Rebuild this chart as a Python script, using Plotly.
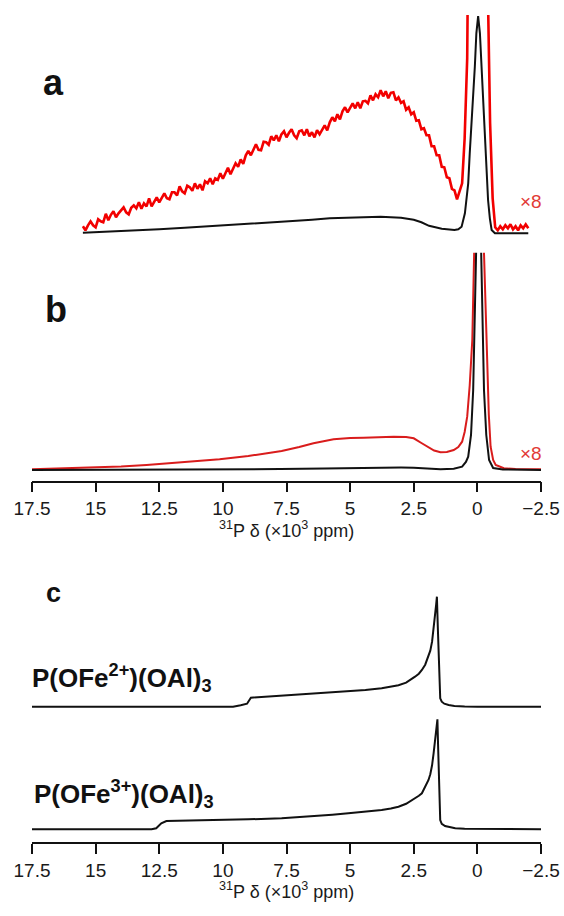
import plotly.graph_objects as go

# ---------------- data (intensities in a.u., shift in 10^3 ppm) ----------------
# Panel a: black spectrum
a_black_x = [15.5, 14.5, 13.5, 12.5, 11.5, 10.5, 9.5, 8.5, 7.7, 6.5, 5.8, 4.5, 3.8, 3.0, 2.5, 2.2,
             1.9, 1.4, 0.9, 0.75, 0.62, 0.49, 0.36, 0.3, 0.23, 0.17, 0.1, 0.04, -0.03, -0.1, -0.17,
             -0.23, -0.29, -0.36, -0.42, -0.49, -0.56, -0.69, -1.2, -2.0]
a_black_y = [0.6, 1.5, 2.5, 4, 5.5, 7, 9, 10.5, 11.6, 13.5, 15, 16.3, 16.6, 15.5, 13.5, 11,
             7.5, 4.5, 3.3, 4, 6.6, 20, 50, 80, 106.6, 140, 166.6, 200, 217.3, 200, 166.6,
             135, 100, 65, 33.3, 15, 3.3, 0, 0, 0]

# Panel a: red spectrum (x8, noisy)
a_red_x = [15.5, 15.4, 15.3, 15.2, 15.1, 15.0, 14.9, 14.8, 14.7, 14.6, 14.5, 14.4, 14.3, 14.2, 14.1,
           14.0, 13.9, 13.8, 13.7, 13.6, 13.5, 13.4, 13.3, 13.2, 13.1, 13.0, 12.9, 12.8, 12.7, 12.6,
           12.5, 12.4, 12.3, 12.2, 12.1, 12.0, 11.9, 11.8, 11.7, 11.6, 11.5, 11.4, 11.3, 11.2, 11.1,
           11.0, 10.9, 10.8, 10.7, 10.6, 10.5, 10.4, 10.3, 10.2, 10.1, 10.0, 9.9, 9.8, 9.7, 9.6,
           9.5, 9.4, 9.3, 9.2, 9.1, 9.0, 8.9, 8.8, 8.7, 8.6, 8.5, 8.4, 8.3, 8.2, 8.1,
           8.0, 7.9, 7.8, 7.7, 7.6, 7.5, 7.4, 7.3, 7.2, 7.1, 7.0, 6.9, 6.8, 6.7, 6.6,
           6.5, 6.4, 6.3, 6.2, 6.1, 6.0, 5.9, 5.8, 5.7, 5.6, 5.5, 5.4, 5.3, 5.2, 5.1,
           5.0, 4.9, 4.8, 4.7, 4.6, 4.5, 4.4, 4.3, 4.2, 4.1, 4.0, 3.9, 3.8, 3.7, 3.6,
           3.5, 3.4, 3.3, 3.2, 3.1, 3.0, 2.9, 2.8, 2.7, 2.6, 2.5, 2.4, 2.3, 2.2, 2.1,
           2.0, 1.9, 1.8, 1.7, 1.6, 1.5, 1.4, 1.3, 1.2, 1.1, 1.0, 0.9, 0.8, 0.7, 0.6,
           0.5, 0.4, 0.3, 0.2, 0.1, 0.0, -0.03, -0.1, -0.2, -0.3, -0.4, -0.5, -0.6, -0.7, -0.8,
           -0.9, -1.0, -1.1, -1.2, -1.3, -1.4, -1.5, -1.6, -1.7, -1.8, -1.9, -2.0]
a_red_y = [7, 3, 8, 12, 8, 6, 14, 12, 11, 19.5, 13, 18.5, 22, 16, 20,
           23.5, 26, 21, 19, 25.5, 28, 25, 31, 24.5, 30, 27, 35, 27, 32, 36,
           31, 36, 40, 35, 34, 41, 41, 38, 47, 42, 40, 47.5, 46, 42.5, 50,
           44.5, 49, 43, 52, 50, 55, 49, 55, 53.5, 60, 54.5, 61, 65.5, 59, 65,
           70, 66.5, 74, 69.5, 78, 82.5, 78, 83.5, 89, 83.5, 83, 91.5, 91, 88.5, 97,
           93, 98, 92, 99, 102, 96, 100.5, 104, 98, 95, 102, 103, 98, 104, 97,
           101, 96, 103, 99, 103, 108, 103, 111, 116, 112, 119, 114, 122, 126, 121,
           126, 130, 125, 131, 125, 132, 132.5, 130, 138, 133, 139, 136, 143, 137, 142,
           135, 140.5, 141, 133, 136, 130.5, 132, 123.5, 126, 119, 121, 112.5, 113, 104, 105,
           98, 98, 87, 87, 78, 78, 66.5, 66, 56, 55, 44.5, 43, 34, 42, 50,
           95, 175, 480, 950, 1330, 1700, 1736, 1600, 1200, 760, 260, 110, 35, 6, 3,
           7, 4, 8, 5, 9, 4, 7, 3, 8, 5, 9, 5]

# Panel b: black spectrum
b_black_x = [17.5, 15.0, 12.5, 10.0, 7.75, 6.0, 4.47, 3.0, 2.5, 1.97, 1.45, 0.93, 0.75, 0.6, 0.45,
             0.36, 0.25, 0.165, 0.05, -0.05, -0.15, -0.26, -0.35, -0.46, -0.62, -1.0, -2.5]
b_black_y = [0, 0.1, 0.3, 0.6, 0.9, 1.6, 2.3, 2.4, 2.3, 1.5, 0.8, 1.3, 2, 3.3, 8,
             13.3, 35, 80, 217, 450, 217, 80, 35, 10, 2, 0.5, 0]

# Panel b: red spectrum (x8)
b_red_x = [17.5, 16.5, 15.5, 14.84, 14.0, 13.0, 12.49, 11.5, 10.13, 9.0, 8.0, 7.69, 7.0, 6.44, 5.65,
           5.0, 4.47, 3.8, 3.29, 2.8, 2.5, 2.2, 1.97, 1.7, 1.45, 1.2, 0.93, 0.75, 0.6, 0.5,
           0.4, 0.3, 0.2, 0.11, 0.0, -0.07, -0.15, -0.26, -0.39, -0.45, -0.52, -0.62, -0.72, -1.04, -1.5,
           -2.5]
b_red_y = [0.7, 1.5, 2.2, 2.7, 3.5, 5, 6, 7.5, 10.7, 14, 17.5, 19, 23, 26.7, 30.7,
           32, 32.3, 33, 33.3, 33, 31.7, 27, 23.3, 19.5, 17.7, 18, 20, 23, 28.3, 38,
           53.3, 85, 130, 217, 400, 450, 400, 217, 97, 55, 23.3, 10, 5, 1.7, 1,
           0.7]

# Panel c: simulated line shapes
c1_x = [17.5, 9.6, 9.3, 9.05, 8.9, 8.3, 7.69, 7.0, 6.38, 5.7, 5.07, 4.4, 3.76, 3.4, 3.1, 2.8, 2.6,
        2.45, 2.3, 2.18, 2.05, 1.92, 1.85, 1.78, 1.72, 1.68, 1.65, 1.62, 1.59, 1.555, 1.52, 1.49,
        1.46, 1.4, 1.3, 1.13, 0.9, 0.5, 0.0, -2.5]
c1_y = [0, 0, 1.5, 3, 9, 10, 10.7, 11.6, 12.7, 13.8, 15, 16.6, 18.4, 19.8, 21.5, 24, 27,
        30, 33, 36.7, 42, 50, 56, 65, 76.7, 85, 95, 102, 110, 80, 55, 25,
        8.4, 5, 3, 1.7, 0.8, 0.3, 0, 0]
c2_x = [17.5, 12.8, 12.62, 12.42, 12.22, 11.0, 10.0, 9.0, 7.69, 7.0, 6.38, 5.7, 5.07, 4.4, 3.76, 3.4,
        3.1, 2.8, 2.6, 2.45, 2.3, 2.18, 2.05, 1.92, 1.85, 1.78, 1.72, 1.68, 1.65, 1.61, 1.57, 1.545,
        1.52, 1.49, 1.46, 1.4, 1.27, 0.87, 0.5, -2.5]
c2_y = [0, 0, 1, 6, 8.3, 8.8, 9.4, 10, 11, 12.1, 13.3, 14.6, 16, 17.5, 19.3, 20.8,
        22.5, 25.5, 28.5, 31, 33.5, 36, 42, 49.3, 55, 64, 76, 85, 95, 103, 110, 85,
        60, 28, 9.3, 5.5, 3.3, 1, 0.5, 0]

tick_vals = [17.5, 15, 12.5, 10, 7.5, 5, 2.5, 0, -2.5]
tick_text = ["17.5", "15", "12.5", "10", "7.5", "5", "2.5", "0", "\u22122.5"]
c_labels = ["P(OFe<sup>2+</sup>)(OAl)<sub>3</sub>", "P(OFe<sup>3+</sup>)(OAl)<sub>3</sub>"]
panel_labels = ["a", "b", "c"]
x_title = "<sup>31</sup>P \u03b4 (\u00d710<sup>3</sup> ppm)"

# ---------------- figure ----------------
W, H = 564, 916
L, R = 32, 23
FONT = "Arial, 'Liberation Sans', Helvetica, sans-serif"
RED_A = "#f20000"
RED_B = "#d91c1c"
BLACK = "#111111"


def py(p):
    return 1 - p / H


def px(p):
    return (p - L) / (W - L - R)


fig = go.Figure()
fig.add_trace(go.Scatter(x=a_red_x, y=a_red_y, mode="lines", line=dict(color=RED_A, width=2.6),
                         xaxis="x", yaxis="y"))
fig.add_trace(go.Scatter(x=a_black_x, y=a_black_y, mode="lines", line=dict(color=BLACK, width=2),
                         xaxis="x", yaxis="y"))
fig.add_trace(go.Scatter(x=b_red_x, y=b_red_y, mode="lines", line=dict(color=RED_B, width=2),
                         xaxis="x", yaxis="y2"))
fig.add_trace(go.Scatter(x=b_black_x, y=b_black_y, mode="lines", line=dict(color=BLACK, width=2),
                         xaxis="x", yaxis="y2"))
fig.add_trace(go.Scatter(x=c1_x, y=c1_y, mode="lines", line=dict(color=BLACK, width=2),
                         xaxis="x2", yaxis="y3"))
fig.add_trace(go.Scatter(x=c2_x, y=c2_y, mode="lines", line=dict(color=BLACK, width=2),
                         xaxis="x2", yaxis="y4"))

xcommon = dict(range=[17.5, -2.5], tickvals=tick_vals, ticktext=tick_text, showgrid=False,
               zeroline=False, showline=True, linecolor=BLACK, linewidth=1.6, ticks="outside",
               ticklen=10, tickwidth=1.6, tickcolor=BLACK, anchor="free",
               tickfont=dict(family=FONT, size=19, color="#1a1a1a"), automargin=False)
ycommon = dict(visible=False, showgrid=False, zeroline=False, fixedrange=True)

fig.update_layout(
    width=W, height=H,
    margin=dict(l=L, r=R, t=0, b=0, autoexpand=False),
    paper_bgcolor="white", plot_bgcolor="white",
    showlegend=False,
    xaxis=dict(**xcommon, position=py(481.5)),
    xaxis2=dict(**xcommon, position=py(843)),
    yaxis=dict(**ycommon, domain=[py(245), py(15)], range=[233.3 - 245, 233.3 - 15], anchor="x"),
    yaxis2=dict(**ycommon, domain=[py(478), py(252.7)], range=[470 - 478, 470 - 252.7], anchor="x"),
    yaxis3=dict(**ycommon, domain=[py(711.7), py(591.7)], range=[-5, 115], anchor="x2"),
    yaxis4=dict(**ycommon, domain=[py(834.3), py(714.3)], range=[-5, 115], anchor="x2"),
)

ann = []
for txt, (xx, yy), size in zip(panel_labels, [(53.5, 82), (55.7, 310), (53, 592.6)], [36, 36, 27]):
    ann.append(dict(text="<b>%s</b>" % txt, x=px(xx), y=py(yy), xref="paper", yref="paper",
                    showarrow=False, xanchor="center", yanchor="middle",
                    font=dict(family=FONT, size=size, color=BLACK)))
for yy in [201.5, 453.3]:
    ann.append(dict(text="\u00d78", x=px(531), y=py(yy), xref="paper", yref="paper",
                    showarrow=False, xanchor="center", yanchor="middle",
                    font=dict(family=FONT, size=19, color="#e23a36")))
for txt, (xx, yy) in zip(c_labels, [(30, 677.5), (32, 793.5)]):
    ann.append(dict(text="<b>%s</b>" % txt, x=px(xx), y=py(yy), xref="paper", yref="paper",
                    showarrow=False, xanchor="left", yanchor="middle",
                    font=dict(family=FONT, size=26, color=BLACK)))
for yy in [529, 890.5]:
    ann.append(dict(text=x_title, x=px(286.5), y=py(yy), xref="paper", yref="paper",
                    showarrow=False, xanchor="center", yanchor="middle",
                    font=dict(family=FONT, size=18, color="#1a1a1a")))
fig.update_layout(annotations=ann)

fig.write_html("out.html", config={"displayModeBar": False},
               post_script="document.body.style.margin='0';")
